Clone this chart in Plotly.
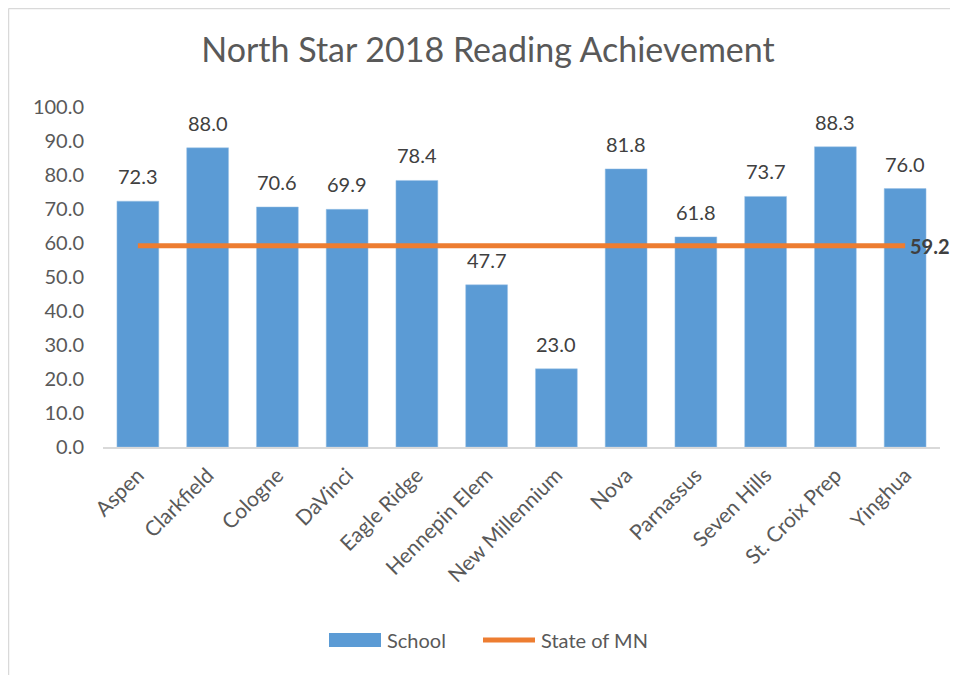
import plotly.graph_objects as go

schools = ["Aspen", "Clarkfield", "Cologne", "DaVinci", "Eagle Ridge", "Hennepin Elem",
           "New Millennium", "Nova", "Parnassus", "Seven Hills", "St. Croix Prep", "Yinghua"]
school_scores = [72.3, 88.0, 70.6, 69.9, 78.4, 47.7, 23.0, 81.8, 61.8, 73.7, 88.3, 76.0]
state_score = 59.2
state_scores = [state_score] * len(schools)
y_ticks = [0, 10, 20, 30, 40, 50, 60, 70, 80, 90, 100]
series_names = ["School", "State of MN"]

FONT = "Lato"
TXT = "#595959"
BLUE = "#5B9BD5"
ORANGE = "#ED7D31"

fig = go.Figure()
fig.add_trace(go.Bar(x=schools, y=school_scores, name=series_names[0], showlegend=False,
                     marker=dict(color=BLUE, line=dict(color="#9DC3E6", width=0.5))))
fig.add_trace(go.Scatter(x=schools, y=state_scores, name=series_names[1], mode="lines",
                         showlegend=False, line=dict(color=ORANGE, width=5)))

OFF = 8  # page body margin
VW, VH = 958, 675
W, H = VW - 2 * OFF, VH - OFF
# plot area in screen pixels: x 103..940, y 107..447
L = 103 - OFF
T = 107 - OFF
R = W - (940 - OFF)
B = H - (447 - OFF)
pw, ph = W - L - R, H - T - B


def px_x(x):
    return (x - OFF - L) / pw


def px_y(y):
    return 1 - (y - OFF - T) / ph


annotations = []
for s, v in zip(schools, school_scores):
    annotations.append(dict(x=s, y=v, text=f"{v:.1f}", showarrow=False, yanchor="bottom",
                            yshift=11, font=dict(family=FONT, size=20, color="#404040")))
annotations.append(dict(x=schools[-1], y=state_score, text=f"<b>{state_score:.1f}</b>",
                        showarrow=False, xanchor="left", xshift=3,
                        font=dict(family=FONT, size=20, color="#404040")))
# legend texts
annotations.append(dict(xref="paper", yref="paper", x=px_x(385), y=px_y(640), text=series_names[0],
                        showarrow=False, xanchor="left", yanchor="middle",
                        font=dict(family=FONT, size=20, color=TXT)))
annotations.append(dict(xref="paper", yref="paper", x=px_x(539), y=px_y(640), text=series_names[1],
                        showarrow=False, xanchor="left", yanchor="middle",
                        font=dict(family=FONT, size=20, color=TXT)))

shapes = [
    # chart-area border (left and top edges visible)
    dict(type="line", xref="paper", yref="paper",
         x0=px_x(8.5), x1=px_x(VW + 50), y0=px_y(8.5), y1=px_y(8.5),
         line=dict(color="#D9D9D9", width=1.5), layer="below"),
    dict(type="line", xref="paper", yref="paper",
         x0=px_x(8.5), x1=px_x(8.5), y0=px_y(8.5), y1=px_y(VH + 50),
         line=dict(color="#D9D9D9", width=1.5), layer="below"),
    # legend keys
    dict(type="rect", xref="paper", yref="paper",
         x0=px_x(329), x1=px_x(381), y0=px_y(647), y1=px_y(633),
         line=dict(width=0), fillcolor=BLUE),
    dict(type="line", xref="paper", yref="paper",
         x0=px_x(483), x1=px_x(535), y0=px_y(640), y1=px_y(640),
         line=dict(color=ORANGE, width=5)),
]

fig.update_layout(
    width=W, height=H,
    margin=dict(l=L, r=R, t=T, b=B, autoexpand=False),
    paper_bgcolor="white", plot_bgcolor="white",
    font=dict(family=FONT, color=TXT, size=20),
    title=dict(text="North Star 2018 Reading Achievement", x=((488 - OFF) / W), xanchor="center",
               y=1 - (50 - OFF) / H, yanchor="middle", font=dict(family=FONT, size=34, color=TXT)),
    bargap=0.4,
    showlegend=False,
    annotations=annotations,
    shapes=shapes,
)
fig.update_yaxes(range=[0, 100], tickvals=y_ticks, ticktext=[f"{t:.1f}" for t in y_ticks],
                 showgrid=False, zeroline=False, showline=False, ticklabelstandoff=18,
                 automargin=False, tickfont=dict(family=FONT, size=20, color=TXT))
fig.update_xaxes(range=[-0.5, len(schools) - 0.5], autorange=False,
                 showline=True, linecolor="#D9D9D9", linewidth=1.5, tickangle=-45,
                 ticklabelstandoff=6, automargin=False,
                 tickfont=dict(family=FONT, size=21, color=TXT))

fig.write_html("out.html")
